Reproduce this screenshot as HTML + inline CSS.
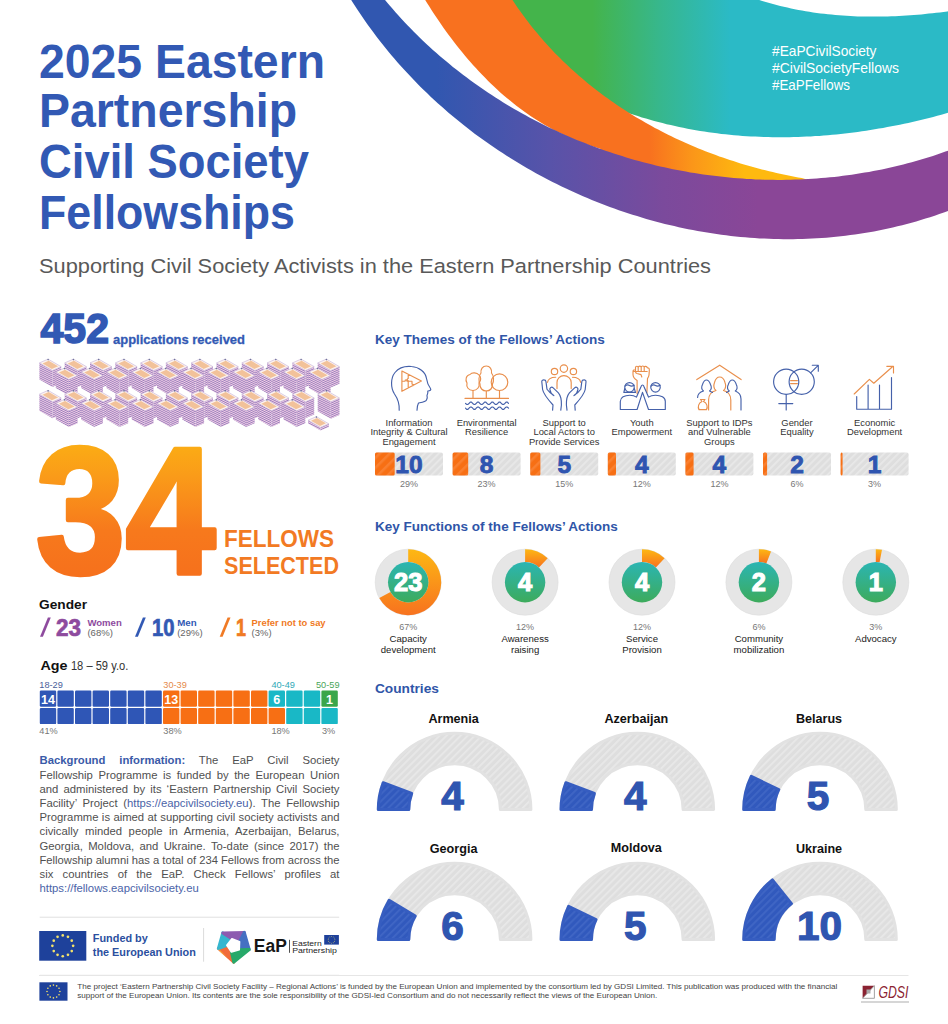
<!DOCTYPE html>
<html><head><meta charset="utf-8"><style>
html,body{margin:0;padding:0;background:#fff;}
body{width:948px;height:1024px;overflow:hidden;position:relative;font-family:"Liberation Sans", sans-serif;}
svg{position:absolute;left:0;top:0;}
text{font-family:"Liberation Sans", sans-serif;}
</style></head><body>
<svg width="948" height="1024" viewBox="0 0 948 1024">
<defs>

<linearGradient id="gBand" x1="0" y1="0" x2="948" y2="0" gradientUnits="userSpaceOnUse">
  <stop offset="0.46" stop-color="#3157b0"/><stop offset="0.58" stop-color="#5853a9"/><stop offset="0.70" stop-color="#7b4a9c"/><stop offset="0.80" stop-color="#8a4697"/><stop offset="1" stop-color="#8a4697"/>
</linearGradient>
<linearGradient id="gOrange" x1="0" y1="0" x2="948" y2="0" gradientUnits="userSpaceOnUse">
  <stop offset="0.685" stop-color="#f8711f"/><stop offset="0.73" stop-color="#fb9619"/><stop offset="0.785" stop-color="#feb90f"/>
</linearGradient>
<linearGradient id="gGreen" x1="0" y1="0" x2="948" y2="0" gradientUnits="userSpaceOnUse">
  <stop offset="0.625" stop-color="#44b44b"/><stop offset="0.695" stop-color="#37b78c"/><stop offset="0.77" stop-color="#2bbac6"/><stop offset="1" stop-color="#2bbac6"/>
</linearGradient>
<linearGradient id="g34" x1="0" y1="0" x2="0" y2="1">
  <stop offset="0" stop-color="#fdbf0f"/><stop offset="0.33" stop-color="#fa9b19"/><stop offset="0.6" stop-color="#f7791c"/><stop offset="1" stop-color="#f56a1c"/>
</linearGradient>
<linearGradient id="gDon" x1="0" y1="0" x2="0" y2="1">
  <stop offset="0" stop-color="#fdb813"/><stop offset="1" stop-color="#f7721f"/>
</linearGradient>
<linearGradient id="gGrn" x1="0" y1="0" x2="0" y2="1">
  <stop offset="0" stop-color="#2bb5b3"/><stop offset="1" stop-color="#3dab5c"/>
</linearGradient>
<pattern id="pGray" width="5" height="5" patternUnits="userSpaceOnUse" patternTransform="rotate(45)">
  <rect width="5" height="5" fill="#dedede"/><rect width="1.8" height="5" fill="#e8e8e8"/>
</pattern>
<pattern id="pBlue" width="5" height="5" patternUnits="userSpaceOnUse" patternTransform="rotate(45)">
  <rect width="5" height="5" fill="#3159bd"/><rect width="1.8" height="5" fill="#4066c5"/>
</pattern>
<pattern id="pOr" width="7" height="7" patternUnits="userSpaceOnUse" patternTransform="rotate(45)">
  <rect width="7" height="7" fill="#f76f14"/><rect width="2.5" height="7" fill="#f98030"/>
</pattern>
<pattern id="pSideL" width="4" height="2" patternUnits="userSpaceOnUse" patternTransform="skewY(26)">
  <rect width="4" height="2" fill="#f1cfe6"/><rect width="4" height="1" fill="#9c80bd"/>
</pattern>
<pattern id="pSideR" width="4" height="2" patternUnits="userSpaceOnUse" patternTransform="skewY(-24)">
  <rect width="4" height="2" fill="#f1cfe6"/><rect width="4" height="1" fill="#9c80bd"/>
</pattern>

</defs>
<path d="M497.0,-15.4 498.9,-12.1 500.9,-8.9 502.9,-5.7 504.9,-2.5 507.0,0.7 509.0,3.8 511.1,6.9 513.3,10.0 515.5,13.0 517.7,16.0 519.9,19.0 522.2,22.0 524.4,24.9 526.8,27.9 529.1,30.7 531.5,33.6 533.9,36.4 536.3,39.2 538.7,42.0 541.2,44.8 543.7,47.5 546.3,50.2 548.8,52.9 551.4,55.5 554.0,58.1 556.6,60.7 559.3,63.3 562.0,65.8 564.7,68.4 567.4,70.8 570.2,73.3 572.9,75.7 575.7,78.1 578.6,80.5 581.4,82.9 584.3,85.2 587.1,87.5 590.0,89.8 593.0,92.0 595.9,94.2 598.9,96.4 601.9,98.6 604.9,100.7 607.9,102.8 611.0,104.9 614.0,107.0 617.1,109.0 L629.6,113.5 633.7,114.8 637.8,116.1 641.9,117.4 646.0,118.6 650.1,119.8 654.2,121.0 658.3,122.1 662.5,123.1 666.6,124.2 670.8,125.1 675.0,126.1 679.1,127.0 683.3,127.8 687.5,128.7 691.7,129.4 695.9,130.2 700.1,130.9 704.3,131.6 708.6,132.2 712.8,132.8 717.0,133.3 721.3,133.9 725.5,134.3 729.7,134.8 734.0,135.2 738.2,135.5 742.5,135.9 746.8,136.2 751.0,136.4 755.3,136.6 759.6,136.8 763.8,137.0 768.1,137.1 772.4,137.2 776.6,137.2 780.9,137.2 785.2,137.2 789.5,137.2 793.7,137.1 798.0,137.0 802.3,136.8 806.6,136.6 810.8,136.4 815.1,136.1 819.4,135.9 823.6,135.5 827.9,135.2 832.2,134.8 836.4,134.4 840.7,134.0 845.0,133.5 849.2,133.0 853.5,132.4 857.7,131.9 862.0,131.3 866.2,130.7 870.4,130.0 874.7,129.3 878.9,128.6 883.1,127.9 887.3,127.1 891.5,126.3 895.7,125.5 899.9,124.7 904.1,123.8 908.3,122.9 912.4,121.9 916.6,121.0 920.8,120.0 924.9,119.0 929.1,118.0 933.2,116.9 937.3,115.8 941.4,114.7 945.5,113.5 949.6,112.4 953.7,111.2 957.8,110.0 961.9,108.8 L962,8 L961.9,9.2 958.3,9.8 954.6,10.3 951.0,10.9 947.3,11.4 943.6,11.9 939.9,12.4 936.2,12.8 932.5,13.2 928.8,13.6 925.1,14.0 921.4,14.4 917.6,14.7 913.9,15.0 910.2,15.3 906.4,15.6 902.7,15.8 899.0,16.0 895.2,16.2 891.5,16.3 887.7,16.4 884.0,16.5 880.2,16.6 876.5,16.6 872.7,16.6 869.0,16.6 865.2,16.6 861.5,16.5 857.7,16.4 854.0,16.2 850.3,16.0 846.5,15.8 842.8,15.6 839.1,15.3 835.3,15.0 831.6,14.6 827.9,14.2 824.2,13.8 820.5,13.4 816.8,12.9 813.1,12.4 809.4,11.8 805.7,11.2 802.0,10.6 798.4,9.9 794.7,9.2 791.1,8.4 787.4,7.6 783.8,6.8 780.2,5.9 776.6,5.0 773.0,4.0 769.4,3.0 765.8,2.0 762.2,0.9 758.7,-0.2 755.2,-1.4 751.6,-2.6 748.1,-3.9 744.6,-5.2 L500,-15 Z" fill="url(#gGreen)"/>
<path d="M416.2,-15.1 418.4,-11.5 420.5,-7.8 422.7,-4.1 424.9,-0.5 427.2,3.2 429.5,6.8 431.8,10.4 434.1,14.0 436.5,17.6 438.9,21.1 441.4,24.7 443.8,28.2 446.3,31.7 448.9,35.2 451.4,38.6 454.0,42.0 456.7,45.4 459.3,48.8 462.0,52.1 464.8,55.4 467.5,58.7 470.4,62.0 473.2,65.2 476.1,68.3 479.0,71.5 481.9,74.6 484.9,77.6 487.9,80.7 491.0,83.7 494.0,86.6 497.2,89.5 500.3,92.4 503.5,95.2 506.8,97.9 510.0,100.6 513.3,103.3 516.7,105.9 520.1,108.5 523.5,111.0 527.0,113.5 530.5,115.9 534.0,118.3 537.6,120.5 541.2,122.8 544.8,125.0 548.5,127.1 552.3,129.2 556.0,131.2 559.9,133.1 563.7,135.0 567.6,136.8 571.6,138.5 575.5,140.2 579.6,141.8 583.6,143.3 587.7,144.8 591.9,146.2 596.1,147.5 600.3,148.7 L605.5,164.7 609.6,166.1 613.8,167.5 617.9,168.8 622.1,170.1 626.3,171.4 630.5,172.7 634.7,173.9 638.9,175.0 643.2,176.2 647.4,177.3 651.6,178.3 655.9,179.4 660.2,180.4 664.4,181.3 668.7,182.3 673.0,183.2 677.3,184.0 681.6,184.8 685.9,185.6 690.2,186.4 694.5,187.1 698.9,187.8 703.2,188.4 707.5,189.0 711.9,189.6 716.2,190.1 720.6,190.6 724.9,191.1 729.3,191.5 733.7,191.9 738.0,192.3 742.4,192.6 746.8,192.9 751.1,193.1 755.5,193.4 759.9,193.5 764.3,193.7 768.7,193.8 773.0,193.8 777.4,193.9 781.8,193.9 786.2,193.8 790.6,193.7 794.9,193.6 799.3,193.5 803.7,193.3 808.1,193.0 812.4,192.8 L815,182 L801.8,178.0 798.2,177.4 794.5,176.7 790.9,176.0 787.3,175.3 783.6,174.5 780.0,173.7 776.4,172.9 772.8,172.1 769.1,171.2 765.5,170.3 761.9,169.4 758.3,168.5 754.8,167.5 751.2,166.5 747.6,165.5 744.0,164.4 740.5,163.4 736.9,162.3 733.4,161.1 729.8,160.0 726.3,158.8 722.8,157.6 719.3,156.4 715.8,155.1 712.3,153.8 708.8,152.5 705.4,151.2 701.9,149.8 698.5,148.4 695.1,147.0 691.6,145.5 688.2,144.1 684.8,142.6 681.5,141.0 678.1,139.5 674.7,137.9 671.4,136.3 668.1,134.7 664.7,133.0 661.4,131.3 658.2,129.6 654.9,127.9 651.6,126.1 648.4,124.3 645.2,122.5 642.0,120.6 638.8,118.8 635.6,116.9 632.5,114.9 629.3,113.0 626.2,111.0 623.1,109.0 620.0,107.0 617.0,104.9 613.9,102.8 610.9,100.7 607.9,98.6 604.9,96.4 601.9,94.2 599.0,92.0 596.0,89.8 593.1,87.5 590.3,85.2 587.4,82.9 584.6,80.5 581.7,78.1 578.9,75.7 576.2,73.3 573.4,70.8 570.7,68.4 568.0,65.8 565.3,63.3 562.6,60.7 560.0,58.1 557.4,55.5 554.8,52.9 552.3,50.2 549.7,47.5 547.2,44.8 544.7,42.0 542.3,39.2 539.9,36.4 537.5,33.6 535.1,30.7 532.8,27.9 530.4,24.9 528.2,22.0 525.9,19.0 523.7,16.0 521.5,13.0 519.3,10.0 517.1,6.9 515.0,3.8 513.0,0.7 510.9,-2.5 508.9,-5.7 506.9,-8.9 504.9,-12.1 503.0,-15.4 Z" fill="url(#gOrange)"/>
<path d="M342.0,-15.7 344.4,-11.5 346.8,-7.4 349.3,-3.2 351.8,0.9 354.4,4.9 357.0,9.0 359.7,13.0 362.4,17.0 365.1,20.9 367.9,24.9 370.7,28.8 373.5,32.6 376.4,36.5 379.3,40.3 382.3,44.0 385.3,47.8 388.3,51.5 391.4,55.2 394.5,58.8 397.6,62.5 400.8,66.1 404.0,69.6 407.3,73.1 410.6,76.6 413.9,80.1 417.2,83.5 420.6,86.9 424.0,90.3 427.5,93.6 430.9,96.9 434.5,100.2 438.0,103.4 441.6,106.6 445.2,109.8 448.8,112.9 452.5,116.0 456.2,119.1 459.9,122.1 463.6,125.1 467.4,128.1 471.2,131.0 475.0,133.9 478.9,136.7 482.8,139.6 486.7,142.3 490.6,145.1 494.6,147.8 498.6,150.5 502.6,153.1 506.6,155.7 510.7,158.3 514.8,160.8 518.9,163.3 523.0,165.8 527.2,168.2 531.3,170.6 535.5,172.9 539.7,175.2 544.0,177.5 548.2,179.7 552.5,181.9 556.8,184.1 561.1,186.2 565.5,188.3 569.8,190.3 574.2,192.3 578.6,194.3 583.0,196.2 587.4,198.1 591.8,199.9 596.3,201.7 600.8,203.5 605.3,205.2 609.8,206.9 614.3,208.6 618.8,210.2 623.4,211.7 627.9,213.2 632.5,214.7 637.1,216.1 641.7,217.5 646.3,218.9 650.9,220.2 655.5,221.5 660.2,222.7 664.8,223.9 669.5,225.0 674.2,226.1 678.8,227.2 683.5,228.2 688.2,229.2 692.9,230.1 697.6,231.0 702.4,231.8 707.1,232.6 711.8,233.3 716.6,234.0 721.3,234.7 726.1,235.3 730.8,235.9 735.6,236.4 740.4,236.9 745.1,237.3 749.9,237.7 754.7,238.1 759.5,238.4 764.2,238.6 769.0,238.8 773.8,239.0 778.6,239.1 783.4,239.2 788.2,239.2 793.0,239.2 797.7,239.1 802.5,239.0 807.3,238.8 812.1,238.6 816.9,238.3 821.7,238.0 826.4,237.7 831.2,237.2 836.0,236.8 840.8,236.3 845.5,235.7 850.3,235.1 855.0,234.5 859.8,233.8 864.5,233.0 869.3,232.2 874.0,231.4 878.7,230.5 883.4,229.5 888.1,228.5 892.8,227.4 897.5,226.3 902.2,225.2 906.9,224.0 911.6,222.7 916.2,221.4 920.8,220.0 925.5,218.6 930.1,217.2 934.7,215.7 939.3,214.1 943.9,212.5 948.5,210.8 953.0,209.1 957.6,207.3 962.1,205.5 L962.0,145.4 957.8,147.0 953.7,148.6 949.6,150.1 945.4,151.6 941.3,153.1 937.1,154.5 932.9,155.9 928.7,157.2 924.5,158.5 920.3,159.8 916.0,161.0 911.8,162.2 907.6,163.3 903.3,164.4 899.0,165.5 894.8,166.5 890.5,167.5 886.2,168.4 881.9,169.4 877.6,170.2 873.3,171.1 869.0,171.9 864.7,172.6 860.3,173.3 856.0,174.0 851.7,174.7 847.3,175.3 843.0,175.8 838.6,176.4 834.3,176.9 829.9,177.3 825.6,177.7 821.2,178.1 816.8,178.5 812.4,178.8 808.1,179.0 803.7,179.3 799.3,179.5 794.9,179.6 790.6,179.7 786.2,179.8 781.8,179.9 777.4,179.9 773.0,179.8 768.7,179.8 764.3,179.7 759.9,179.5 755.5,179.4 751.1,179.1 746.8,178.9 742.4,178.6 738.0,178.3 733.7,177.9 729.3,177.5 724.9,177.1 720.6,176.6 716.2,176.1 711.9,175.6 707.5,175.0 703.2,174.4 698.9,173.8 694.5,173.1 690.2,172.4 685.9,171.6 681.6,170.8 677.3,170.0 673.0,169.2 668.7,168.3 664.4,167.3 660.2,166.4 655.9,165.4 651.6,164.3 647.4,163.3 643.2,162.2 638.9,161.0 634.7,159.9 630.5,158.7 626.3,157.4 622.1,156.1 617.9,154.8 613.8,153.5 609.6,152.1 605.5,150.7 601.3,149.2 597.2,147.8 593.1,146.3 589.0,144.7 585.0,143.1 580.9,141.5 576.8,139.9 572.8,138.2 568.8,136.4 564.8,134.7 560.8,132.9 556.8,131.1 552.8,129.2 548.9,127.4 545.0,125.4 541.1,123.5 537.2,121.5 533.3,119.5 529.4,117.4 525.6,115.3 521.8,113.2 517.9,111.1 514.2,108.9 510.4,106.7 506.6,104.4 502.9,102.2 499.2,99.8 495.5,97.5 491.8,95.1 488.2,92.7 484.6,90.3 481.0,87.8 477.4,85.3 473.8,82.8 470.3,80.2 466.8,77.6 463.3,75.0 459.8,72.3 456.3,69.6 452.9,66.9 449.5,64.1 446.2,61.3 442.8,58.5 439.5,55.7 436.2,52.8 432.9,49.9 429.7,46.9 426.4,43.9 423.2,40.9 420.1,37.9 416.9,34.8 413.8,31.7 410.7,28.6 407.7,25.4 404.6,22.2 401.6,19.0 398.7,15.7 395.7,12.5 392.8,9.1 389.9,5.8 387.1,2.4 384.2,-1.0 381.4,-4.4 378.7,-7.9 376.0,-11.4 373.3,-14.9 Z" fill="url(#gBand)"/>
<text x="772" y="56.4" font-size="14.5" fill="#ffffff" font-weight="normal" text-anchor="start" textLength="104.5" lengthAdjust="spacingAndGlyphs" >#EaPCivilSociety</text>
<text x="772" y="73.4" font-size="14.5" fill="#ffffff" font-weight="normal" text-anchor="start" textLength="127" lengthAdjust="spacingAndGlyphs" >#CivilSocietyFellows</text>
<text x="772" y="90.4" font-size="14.5" fill="#ffffff" font-weight="normal" text-anchor="start" textLength="78" lengthAdjust="spacingAndGlyphs" >#EaPFellows</text>
<text x="39" y="77.5" font-size="47.5" fill="#3259b4" font-weight="bold" text-anchor="start" textLength="286" lengthAdjust="spacingAndGlyphs" >2025 Eastern</text>
<text x="39" y="127" font-size="47.5" fill="#3259b4" font-weight="bold" text-anchor="start" textLength="258" lengthAdjust="spacingAndGlyphs" >Partnership</text>
<text x="39" y="177.5" font-size="47.5" fill="#3259b4" font-weight="bold" text-anchor="start" textLength="270" lengthAdjust="spacingAndGlyphs" >Civil Society</text>
<text x="39" y="228.7" font-size="47.5" fill="#3259b4" font-weight="bold" text-anchor="start" textLength="256" lengthAdjust="spacingAndGlyphs" >Fellowships</text>
<text x="39" y="273" font-size="20.5" fill="#595959" font-weight="normal" text-anchor="start" textLength="672" lengthAdjust="spacingAndGlyphs" >Supporting Civil Society Activists in the Eastern Partnership Countries</text>
<text x="40.5" y="343.2" font-size="42.5" fill="#3259b4" font-weight="bold" text-anchor="start" textLength="68.5" lengthAdjust="spacingAndGlyphs" stroke="#3259b4" stroke-width="1.6">452</text>
<text x="113" y="343.7" font-size="13.5" fill="#3259b4" font-weight="bold" text-anchor="start" textLength="132" lengthAdjust="spacingAndGlyphs" stroke="#3259b4" stroke-width="0.3">applications received</text>
<polygon points="39.4,362.9 52.5,370.5 52.5,387.0 39.4,379.4" fill="url(#pSideL)"/><polygon points="52.5,370.5 61.2,366.7 61.2,383.2 52.5,387.0" fill="url(#pSideR)"/><polygon points="39.4,362.9 48.1,359.1 61.2,366.7 52.5,370.5" fill="#fdf3ee" stroke="#b9a2d2" stroke-width="0.5"/><polygon points="42.5,363.4 48.7,360.7 58.1,366.2 51.9,368.9" fill="#f2c29a"/><circle cx="48.1" cy="359.6" r="0.8" fill="#3b4a7a" opacity="0.7"/>
<polygon points="64.7,362.9 77.8,370.5 77.8,387.0 64.7,379.4" fill="url(#pSideL)"/><polygon points="77.8,370.5 86.5,366.7 86.5,383.2 77.8,387.0" fill="url(#pSideR)"/><polygon points="64.7,362.9 73.4,359.1 86.5,366.7 77.8,370.5" fill="#fdf3ee" stroke="#b9a2d2" stroke-width="0.5"/><polygon points="67.8,363.4 74.0,360.7 83.4,366.2 77.2,368.9" fill="#f2c29a"/><circle cx="73.4" cy="359.6" r="0.8" fill="#3b4a7a" opacity="0.7"/>
<polygon points="90.0,362.9 103.1,370.5 103.1,387.0 90.0,379.4" fill="url(#pSideL)"/><polygon points="103.1,370.5 111.8,366.7 111.8,383.2 103.1,387.0" fill="url(#pSideR)"/><polygon points="90.0,362.9 98.7,359.1 111.8,366.7 103.1,370.5" fill="#fdf3ee" stroke="#b9a2d2" stroke-width="0.5"/><polygon points="93.1,363.4 99.3,360.7 108.7,366.2 102.5,368.9" fill="#f2c29a"/><circle cx="98.7" cy="359.6" r="0.8" fill="#3b4a7a" opacity="0.7"/>
<polygon points="115.3,362.9 128.4,370.5 128.4,387.0 115.3,379.4" fill="url(#pSideL)"/><polygon points="128.4,370.5 137.1,366.7 137.1,383.2 128.4,387.0" fill="url(#pSideR)"/><polygon points="115.3,362.9 124.0,359.1 137.1,366.7 128.4,370.5" fill="#fdf3ee" stroke="#b9a2d2" stroke-width="0.5"/><polygon points="118.4,363.4 124.6,360.7 134.0,366.2 127.8,368.9" fill="#f2c29a"/><circle cx="124.0" cy="359.6" r="0.8" fill="#3b4a7a" opacity="0.7"/>
<polygon points="140.6,362.9 153.7,370.5 153.7,387.0 140.6,379.4" fill="url(#pSideL)"/><polygon points="153.7,370.5 162.4,366.7 162.4,383.2 153.7,387.0" fill="url(#pSideR)"/><polygon points="140.6,362.9 149.3,359.1 162.4,366.7 153.7,370.5" fill="#fdf3ee" stroke="#b9a2d2" stroke-width="0.5"/><polygon points="143.7,363.4 149.9,360.7 159.3,366.2 153.1,368.9" fill="#f2c29a"/><circle cx="149.3" cy="359.6" r="0.8" fill="#3b4a7a" opacity="0.7"/>
<polygon points="165.9,362.9 179.0,370.5 179.0,387.0 165.9,379.4" fill="url(#pSideL)"/><polygon points="179.0,370.5 187.7,366.7 187.7,383.2 179.0,387.0" fill="url(#pSideR)"/><polygon points="165.9,362.9 174.6,359.1 187.7,366.7 179.0,370.5" fill="#fdf3ee" stroke="#b9a2d2" stroke-width="0.5"/><polygon points="169.0,363.4 175.2,360.7 184.6,366.2 178.4,368.9" fill="#f2c29a"/><circle cx="174.6" cy="359.6" r="0.8" fill="#3b4a7a" opacity="0.7"/>
<polygon points="191.2,362.9 204.3,370.5 204.3,387.0 191.2,379.4" fill="url(#pSideL)"/><polygon points="204.3,370.5 213.0,366.7 213.0,383.2 204.3,387.0" fill="url(#pSideR)"/><polygon points="191.2,362.9 199.9,359.1 213.0,366.7 204.3,370.5" fill="#fdf3ee" stroke="#b9a2d2" stroke-width="0.5"/><polygon points="194.3,363.4 200.5,360.7 209.9,366.2 203.7,368.9" fill="#f2c29a"/><circle cx="199.9" cy="359.6" r="0.8" fill="#3b4a7a" opacity="0.7"/>
<polygon points="216.5,362.9 229.6,370.5 229.6,387.0 216.5,379.4" fill="url(#pSideL)"/><polygon points="229.6,370.5 238.3,366.7 238.3,383.2 229.6,387.0" fill="url(#pSideR)"/><polygon points="216.5,362.9 225.2,359.1 238.3,366.7 229.6,370.5" fill="#fdf3ee" stroke="#b9a2d2" stroke-width="0.5"/><polygon points="219.6,363.4 225.8,360.7 235.2,366.2 229.0,368.9" fill="#f2c29a"/><circle cx="225.2" cy="359.6" r="0.8" fill="#3b4a7a" opacity="0.7"/>
<polygon points="241.8,362.9 254.9,370.5 254.9,387.0 241.8,379.4" fill="url(#pSideL)"/><polygon points="254.9,370.5 263.6,366.7 263.6,383.2 254.9,387.0" fill="url(#pSideR)"/><polygon points="241.8,362.9 250.5,359.1 263.6,366.7 254.9,370.5" fill="#fdf3ee" stroke="#b9a2d2" stroke-width="0.5"/><polygon points="244.9,363.4 251.1,360.7 260.5,366.2 254.3,368.9" fill="#f2c29a"/><circle cx="250.5" cy="359.6" r="0.8" fill="#3b4a7a" opacity="0.7"/>
<polygon points="267.1,362.9 280.2,370.5 280.2,387.0 267.1,379.4" fill="url(#pSideL)"/><polygon points="280.2,370.5 288.9,366.7 288.9,383.2 280.2,387.0" fill="url(#pSideR)"/><polygon points="267.1,362.9 275.8,359.1 288.9,366.7 280.2,370.5" fill="#fdf3ee" stroke="#b9a2d2" stroke-width="0.5"/><polygon points="270.2,363.4 276.4,360.7 285.8,366.2 279.6,368.9" fill="#f2c29a"/><circle cx="275.8" cy="359.6" r="0.8" fill="#3b4a7a" opacity="0.7"/>
<polygon points="292.4,362.9 305.5,370.5 305.5,387.0 292.4,379.4" fill="url(#pSideL)"/><polygon points="305.5,370.5 314.2,366.7 314.2,383.2 305.5,387.0" fill="url(#pSideR)"/><polygon points="292.4,362.9 301.1,359.1 314.2,366.7 305.5,370.5" fill="#fdf3ee" stroke="#b9a2d2" stroke-width="0.5"/><polygon points="295.5,363.4 301.7,360.7 311.1,366.2 304.9,368.9" fill="#f2c29a"/><circle cx="301.1" cy="359.6" r="0.8" fill="#3b4a7a" opacity="0.7"/>
<polygon points="317.7,362.9 330.8,370.5 330.8,387.5 317.7,379.9" fill="url(#pSideL)"/><polygon points="330.8,370.5 339.5,366.7 339.5,383.7 330.8,387.5" fill="url(#pSideR)"/><polygon points="317.7,362.9 326.4,359.1 339.5,366.7 330.8,370.5" fill="#fdf3ee" stroke="#b9a2d2" stroke-width="0.5"/><polygon points="320.8,363.4 327.0,360.7 336.4,366.2 330.2,368.9" fill="#f2c29a"/><circle cx="326.4" cy="359.6" r="0.8" fill="#3b4a7a" opacity="0.7"/>
<polygon points="55.8,371.9 68.9,379.5 68.9,395.7 55.8,388.1" fill="url(#pSideL)"/><polygon points="68.9,379.5 77.6,375.7 77.6,391.9 68.9,395.7" fill="url(#pSideR)"/><polygon points="55.8,371.9 64.5,368.1 77.6,375.7 68.9,379.5" fill="#fdf3ee" stroke="#b9a2d2" stroke-width="0.5"/><polygon points="58.9,372.4 65.1,369.7 74.5,375.2 68.3,377.9" fill="#f2c29a"/><circle cx="64.5" cy="368.6" r="0.8" fill="#3b4a7a" opacity="0.7"/>
<polygon points="81.1,371.9 94.2,379.5 94.2,395.7 81.1,388.1" fill="url(#pSideL)"/><polygon points="94.2,379.5 102.9,375.7 102.9,391.9 94.2,395.7" fill="url(#pSideR)"/><polygon points="81.1,371.9 89.8,368.1 102.9,375.7 94.2,379.5" fill="#fdf3ee" stroke="#b9a2d2" stroke-width="0.5"/><polygon points="84.2,372.4 90.4,369.7 99.8,375.2 93.6,377.9" fill="#f2c29a"/><circle cx="89.8" cy="368.6" r="0.8" fill="#3b4a7a" opacity="0.7"/>
<polygon points="106.4,371.9 119.5,379.5 119.5,395.7 106.4,388.1" fill="url(#pSideL)"/><polygon points="119.5,379.5 128.2,375.7 128.2,391.9 119.5,395.7" fill="url(#pSideR)"/><polygon points="106.4,371.9 115.1,368.1 128.2,375.7 119.5,379.5" fill="#fdf3ee" stroke="#b9a2d2" stroke-width="0.5"/><polygon points="109.5,372.4 115.7,369.7 125.1,375.2 118.9,377.9" fill="#f2c29a"/><circle cx="115.1" cy="368.6" r="0.8" fill="#3b4a7a" opacity="0.7"/>
<polygon points="131.7,371.9 144.8,379.5 144.8,395.7 131.7,388.1" fill="url(#pSideL)"/><polygon points="144.8,379.5 153.5,375.7 153.5,391.9 144.8,395.7" fill="url(#pSideR)"/><polygon points="131.7,371.9 140.4,368.1 153.5,375.7 144.8,379.5" fill="#fdf3ee" stroke="#b9a2d2" stroke-width="0.5"/><polygon points="134.8,372.4 141.0,369.7 150.4,375.2 144.2,377.9" fill="#f2c29a"/><circle cx="140.4" cy="368.6" r="0.8" fill="#3b4a7a" opacity="0.7"/>
<polygon points="157.0,371.9 170.1,379.5 170.1,395.7 157.0,388.1" fill="url(#pSideL)"/><polygon points="170.1,379.5 178.8,375.7 178.8,391.9 170.1,395.7" fill="url(#pSideR)"/><polygon points="157.0,371.9 165.7,368.1 178.8,375.7 170.1,379.5" fill="#fdf3ee" stroke="#b9a2d2" stroke-width="0.5"/><polygon points="160.1,372.4 166.3,369.7 175.7,375.2 169.5,377.9" fill="#f2c29a"/><circle cx="165.7" cy="368.6" r="0.8" fill="#3b4a7a" opacity="0.7"/>
<polygon points="182.3,371.9 195.4,379.5 195.4,395.7 182.3,388.1" fill="url(#pSideL)"/><polygon points="195.4,379.5 204.1,375.7 204.1,391.9 195.4,395.7" fill="url(#pSideR)"/><polygon points="182.3,371.9 191.0,368.1 204.1,375.7 195.4,379.5" fill="#fdf3ee" stroke="#b9a2d2" stroke-width="0.5"/><polygon points="185.4,372.4 191.6,369.7 201.0,375.2 194.8,377.9" fill="#f2c29a"/><circle cx="191.0" cy="368.6" r="0.8" fill="#3b4a7a" opacity="0.7"/>
<polygon points="207.6,371.9 220.7,379.5 220.7,395.7 207.6,388.1" fill="url(#pSideL)"/><polygon points="220.7,379.5 229.4,375.7 229.4,391.9 220.7,395.7" fill="url(#pSideR)"/><polygon points="207.6,371.9 216.3,368.1 229.4,375.7 220.7,379.5" fill="#fdf3ee" stroke="#b9a2d2" stroke-width="0.5"/><polygon points="210.7,372.4 216.9,369.7 226.3,375.2 220.1,377.9" fill="#f2c29a"/><circle cx="216.3" cy="368.6" r="0.8" fill="#3b4a7a" opacity="0.7"/>
<polygon points="232.9,371.9 246.0,379.5 246.0,395.7 232.9,388.1" fill="url(#pSideL)"/><polygon points="246.0,379.5 254.7,375.7 254.7,391.9 246.0,395.7" fill="url(#pSideR)"/><polygon points="232.9,371.9 241.6,368.1 254.7,375.7 246.0,379.5" fill="#fdf3ee" stroke="#b9a2d2" stroke-width="0.5"/><polygon points="236.0,372.4 242.2,369.7 251.6,375.2 245.4,377.9" fill="#f2c29a"/><circle cx="241.6" cy="368.6" r="0.8" fill="#3b4a7a" opacity="0.7"/>
<polygon points="258.2,371.9 271.3,379.5 271.3,395.7 258.2,388.1" fill="url(#pSideL)"/><polygon points="271.3,379.5 280.0,375.7 280.0,391.9 271.3,395.7" fill="url(#pSideR)"/><polygon points="258.2,371.9 266.9,368.1 280.0,375.7 271.3,379.5" fill="#fdf3ee" stroke="#b9a2d2" stroke-width="0.5"/><polygon points="261.3,372.4 267.5,369.7 276.9,375.2 270.7,377.9" fill="#f2c29a"/><circle cx="266.9" cy="368.6" r="0.8" fill="#3b4a7a" opacity="0.7"/>
<polygon points="283.5,371.9 296.6,379.5 296.6,395.7 283.5,388.1" fill="url(#pSideL)"/><polygon points="296.6,379.5 305.3,375.7 305.3,391.9 296.6,395.7" fill="url(#pSideR)"/><polygon points="283.5,371.9 292.2,368.1 305.3,375.7 296.6,379.5" fill="#fdf3ee" stroke="#b9a2d2" stroke-width="0.5"/><polygon points="286.6,372.4 292.8,369.7 302.2,375.2 296.0,377.9" fill="#f2c29a"/><circle cx="292.2" cy="368.6" r="0.8" fill="#3b4a7a" opacity="0.7"/>
<polygon points="308.8,371.9 321.9,379.5 321.9,395.7 308.8,388.1" fill="url(#pSideL)"/><polygon points="321.9,379.5 330.6,375.7 330.6,391.9 321.9,395.7" fill="url(#pSideR)"/><polygon points="308.8,371.9 317.5,368.1 330.6,375.7 321.9,379.5" fill="#fdf3ee" stroke="#b9a2d2" stroke-width="0.5"/><polygon points="311.9,372.4 318.1,369.7 327.5,375.2 321.3,377.9" fill="#f2c29a"/><circle cx="317.5" cy="368.6" r="0.8" fill="#3b4a7a" opacity="0.7"/>
<polygon points="39.4,394.2 52.5,401.8 52.5,418.3 39.4,410.7" fill="url(#pSideL)"/><polygon points="52.5,401.8 61.2,398.0 61.2,414.5 52.5,418.3" fill="url(#pSideR)"/><polygon points="39.4,394.2 48.1,390.4 61.2,398.0 52.5,401.8" fill="#fdf3ee" stroke="#b9a2d2" stroke-width="0.5"/><polygon points="42.5,394.7 48.7,392.0 58.1,397.5 51.9,400.2" fill="#f2c29a"/><circle cx="48.1" cy="390.9" r="0.8" fill="#3b4a7a" opacity="0.7"/>
<polygon points="64.7,394.2 77.8,401.8 77.8,418.3 64.7,410.7" fill="url(#pSideL)"/><polygon points="77.8,401.8 86.5,398.0 86.5,414.5 77.8,418.3" fill="url(#pSideR)"/><polygon points="64.7,394.2 73.4,390.4 86.5,398.0 77.8,401.8" fill="#fdf3ee" stroke="#b9a2d2" stroke-width="0.5"/><polygon points="67.8,394.7 74.0,392.0 83.4,397.5 77.2,400.2" fill="#f2c29a"/><circle cx="73.4" cy="390.9" r="0.8" fill="#3b4a7a" opacity="0.7"/>
<polygon points="90.0,394.2 103.1,401.8 103.1,418.3 90.0,410.7" fill="url(#pSideL)"/><polygon points="103.1,401.8 111.8,398.0 111.8,414.5 103.1,418.3" fill="url(#pSideR)"/><polygon points="90.0,394.2 98.7,390.4 111.8,398.0 103.1,401.8" fill="#fdf3ee" stroke="#b9a2d2" stroke-width="0.5"/><polygon points="93.1,394.7 99.3,392.0 108.7,397.5 102.5,400.2" fill="#f2c29a"/><circle cx="98.7" cy="390.9" r="0.8" fill="#3b4a7a" opacity="0.7"/>
<polygon points="115.3,394.2 128.4,401.8 128.4,418.3 115.3,410.7" fill="url(#pSideL)"/><polygon points="128.4,401.8 137.1,398.0 137.1,414.5 128.4,418.3" fill="url(#pSideR)"/><polygon points="115.3,394.2 124.0,390.4 137.1,398.0 128.4,401.8" fill="#fdf3ee" stroke="#b9a2d2" stroke-width="0.5"/><polygon points="118.4,394.7 124.6,392.0 134.0,397.5 127.8,400.2" fill="#f2c29a"/><circle cx="124.0" cy="390.9" r="0.8" fill="#3b4a7a" opacity="0.7"/>
<polygon points="140.6,394.2 153.7,401.8 153.7,418.3 140.6,410.7" fill="url(#pSideL)"/><polygon points="153.7,401.8 162.4,398.0 162.4,414.5 153.7,418.3" fill="url(#pSideR)"/><polygon points="140.6,394.2 149.3,390.4 162.4,398.0 153.7,401.8" fill="#fdf3ee" stroke="#b9a2d2" stroke-width="0.5"/><polygon points="143.7,394.7 149.9,392.0 159.3,397.5 153.1,400.2" fill="#f2c29a"/><circle cx="149.3" cy="390.9" r="0.8" fill="#3b4a7a" opacity="0.7"/>
<polygon points="165.9,394.2 179.0,401.8 179.0,418.3 165.9,410.7" fill="url(#pSideL)"/><polygon points="179.0,401.8 187.7,398.0 187.7,414.5 179.0,418.3" fill="url(#pSideR)"/><polygon points="165.9,394.2 174.6,390.4 187.7,398.0 179.0,401.8" fill="#fdf3ee" stroke="#b9a2d2" stroke-width="0.5"/><polygon points="169.0,394.7 175.2,392.0 184.6,397.5 178.4,400.2" fill="#f2c29a"/><circle cx="174.6" cy="390.9" r="0.8" fill="#3b4a7a" opacity="0.7"/>
<polygon points="191.2,394.2 204.3,401.8 204.3,418.3 191.2,410.7" fill="url(#pSideL)"/><polygon points="204.3,401.8 213.0,398.0 213.0,414.5 204.3,418.3" fill="url(#pSideR)"/><polygon points="191.2,394.2 199.9,390.4 213.0,398.0 204.3,401.8" fill="#fdf3ee" stroke="#b9a2d2" stroke-width="0.5"/><polygon points="194.3,394.7 200.5,392.0 209.9,397.5 203.7,400.2" fill="#f2c29a"/><circle cx="199.9" cy="390.9" r="0.8" fill="#3b4a7a" opacity="0.7"/>
<polygon points="216.5,394.2 229.6,401.8 229.6,418.3 216.5,410.7" fill="url(#pSideL)"/><polygon points="229.6,401.8 238.3,398.0 238.3,414.5 229.6,418.3" fill="url(#pSideR)"/><polygon points="216.5,394.2 225.2,390.4 238.3,398.0 229.6,401.8" fill="#fdf3ee" stroke="#b9a2d2" stroke-width="0.5"/><polygon points="219.6,394.7 225.8,392.0 235.2,397.5 229.0,400.2" fill="#f2c29a"/><circle cx="225.2" cy="390.9" r="0.8" fill="#3b4a7a" opacity="0.7"/>
<polygon points="241.8,394.2 254.9,401.8 254.9,418.3 241.8,410.7" fill="url(#pSideL)"/><polygon points="254.9,401.8 263.6,398.0 263.6,414.5 254.9,418.3" fill="url(#pSideR)"/><polygon points="241.8,394.2 250.5,390.4 263.6,398.0 254.9,401.8" fill="#fdf3ee" stroke="#b9a2d2" stroke-width="0.5"/><polygon points="244.9,394.7 251.1,392.0 260.5,397.5 254.3,400.2" fill="#f2c29a"/><circle cx="250.5" cy="390.9" r="0.8" fill="#3b4a7a" opacity="0.7"/>
<polygon points="267.1,394.2 280.2,401.8 280.2,418.3 267.1,410.7" fill="url(#pSideL)"/><polygon points="280.2,401.8 288.9,398.0 288.9,414.5 280.2,418.3" fill="url(#pSideR)"/><polygon points="267.1,394.2 275.8,390.4 288.9,398.0 280.2,401.8" fill="#fdf3ee" stroke="#b9a2d2" stroke-width="0.5"/><polygon points="270.2,394.7 276.4,392.0 285.8,397.5 279.6,400.2" fill="#f2c29a"/><circle cx="275.8" cy="390.9" r="0.8" fill="#3b4a7a" opacity="0.7"/>
<polygon points="292.4,394.2 305.5,401.8 305.5,418.3 292.4,410.7" fill="url(#pSideL)"/><polygon points="305.5,401.8 314.2,398.0 314.2,414.5 305.5,418.3" fill="url(#pSideR)"/><polygon points="292.4,394.2 301.1,390.4 314.2,398.0 305.5,401.8" fill="#fdf3ee" stroke="#b9a2d2" stroke-width="0.5"/><polygon points="295.5,394.7 301.7,392.0 311.1,397.5 304.9,400.2" fill="#f2c29a"/><circle cx="301.1" cy="390.9" r="0.8" fill="#3b4a7a" opacity="0.7"/>
<polygon points="317.7,394.2 330.8,401.8 330.8,418.8 317.7,411.2" fill="url(#pSideL)"/><polygon points="330.8,401.8 339.5,398.0 339.5,415.0 330.8,418.8" fill="url(#pSideR)"/><polygon points="317.7,394.2 326.4,390.4 339.5,398.0 330.8,401.8" fill="#fdf3ee" stroke="#b9a2d2" stroke-width="0.5"/><polygon points="320.8,394.7 327.0,392.0 336.4,397.5 330.2,400.2" fill="#f2c29a"/><circle cx="326.4" cy="390.9" r="0.8" fill="#3b4a7a" opacity="0.7"/>
<polygon points="55.8,403.2 68.9,410.8 68.9,427.0 55.8,419.4" fill="url(#pSideL)"/><polygon points="68.9,410.8 77.6,407.0 77.6,423.2 68.9,427.0" fill="url(#pSideR)"/><polygon points="55.8,403.2 64.5,399.4 77.6,407.0 68.9,410.8" fill="#fdf3ee" stroke="#b9a2d2" stroke-width="0.5"/><polygon points="58.9,403.7 65.1,401.0 74.5,406.5 68.3,409.2" fill="#f2c29a"/><circle cx="64.5" cy="399.9" r="0.8" fill="#3b4a7a" opacity="0.7"/>
<polygon points="81.1,403.2 94.2,410.8 94.2,427.0 81.1,419.4" fill="url(#pSideL)"/><polygon points="94.2,410.8 102.9,407.0 102.9,423.2 94.2,427.0" fill="url(#pSideR)"/><polygon points="81.1,403.2 89.8,399.4 102.9,407.0 94.2,410.8" fill="#fdf3ee" stroke="#b9a2d2" stroke-width="0.5"/><polygon points="84.2,403.7 90.4,401.0 99.8,406.5 93.6,409.2" fill="#f2c29a"/><circle cx="89.8" cy="399.9" r="0.8" fill="#3b4a7a" opacity="0.7"/>
<polygon points="106.4,403.2 119.5,410.8 119.5,427.0 106.4,419.4" fill="url(#pSideL)"/><polygon points="119.5,410.8 128.2,407.0 128.2,423.2 119.5,427.0" fill="url(#pSideR)"/><polygon points="106.4,403.2 115.1,399.4 128.2,407.0 119.5,410.8" fill="#fdf3ee" stroke="#b9a2d2" stroke-width="0.5"/><polygon points="109.5,403.7 115.7,401.0 125.1,406.5 118.9,409.2" fill="#f2c29a"/><circle cx="115.1" cy="399.9" r="0.8" fill="#3b4a7a" opacity="0.7"/>
<polygon points="131.7,403.2 144.8,410.8 144.8,427.0 131.7,419.4" fill="url(#pSideL)"/><polygon points="144.8,410.8 153.5,407.0 153.5,423.2 144.8,427.0" fill="url(#pSideR)"/><polygon points="131.7,403.2 140.4,399.4 153.5,407.0 144.8,410.8" fill="#fdf3ee" stroke="#b9a2d2" stroke-width="0.5"/><polygon points="134.8,403.7 141.0,401.0 150.4,406.5 144.2,409.2" fill="#f2c29a"/><circle cx="140.4" cy="399.9" r="0.8" fill="#3b4a7a" opacity="0.7"/>
<polygon points="157.0,403.2 170.1,410.8 170.1,427.0 157.0,419.4" fill="url(#pSideL)"/><polygon points="170.1,410.8 178.8,407.0 178.8,423.2 170.1,427.0" fill="url(#pSideR)"/><polygon points="157.0,403.2 165.7,399.4 178.8,407.0 170.1,410.8" fill="#fdf3ee" stroke="#b9a2d2" stroke-width="0.5"/><polygon points="160.1,403.7 166.3,401.0 175.7,406.5 169.5,409.2" fill="#f2c29a"/><circle cx="165.7" cy="399.9" r="0.8" fill="#3b4a7a" opacity="0.7"/>
<polygon points="182.3,403.2 195.4,410.8 195.4,427.0 182.3,419.4" fill="url(#pSideL)"/><polygon points="195.4,410.8 204.1,407.0 204.1,423.2 195.4,427.0" fill="url(#pSideR)"/><polygon points="182.3,403.2 191.0,399.4 204.1,407.0 195.4,410.8" fill="#fdf3ee" stroke="#b9a2d2" stroke-width="0.5"/><polygon points="185.4,403.7 191.6,401.0 201.0,406.5 194.8,409.2" fill="#f2c29a"/><circle cx="191.0" cy="399.9" r="0.8" fill="#3b4a7a" opacity="0.7"/>
<polygon points="207.6,403.2 220.7,410.8 220.7,427.0 207.6,419.4" fill="url(#pSideL)"/><polygon points="220.7,410.8 229.4,407.0 229.4,423.2 220.7,427.0" fill="url(#pSideR)"/><polygon points="207.6,403.2 216.3,399.4 229.4,407.0 220.7,410.8" fill="#fdf3ee" stroke="#b9a2d2" stroke-width="0.5"/><polygon points="210.7,403.7 216.9,401.0 226.3,406.5 220.1,409.2" fill="#f2c29a"/><circle cx="216.3" cy="399.9" r="0.8" fill="#3b4a7a" opacity="0.7"/>
<polygon points="232.9,403.2 246.0,410.8 246.0,427.0 232.9,419.4" fill="url(#pSideL)"/><polygon points="246.0,410.8 254.7,407.0 254.7,423.2 246.0,427.0" fill="url(#pSideR)"/><polygon points="232.9,403.2 241.6,399.4 254.7,407.0 246.0,410.8" fill="#fdf3ee" stroke="#b9a2d2" stroke-width="0.5"/><polygon points="236.0,403.7 242.2,401.0 251.6,406.5 245.4,409.2" fill="#f2c29a"/><circle cx="241.6" cy="399.9" r="0.8" fill="#3b4a7a" opacity="0.7"/>
<polygon points="258.2,403.2 271.3,410.8 271.3,427.0 258.2,419.4" fill="url(#pSideL)"/><polygon points="271.3,410.8 280.0,407.0 280.0,423.2 271.3,427.0" fill="url(#pSideR)"/><polygon points="258.2,403.2 266.9,399.4 280.0,407.0 271.3,410.8" fill="#fdf3ee" stroke="#b9a2d2" stroke-width="0.5"/><polygon points="261.3,403.7 267.5,401.0 276.9,406.5 270.7,409.2" fill="#f2c29a"/><circle cx="266.9" cy="399.9" r="0.8" fill="#3b4a7a" opacity="0.7"/>
<polygon points="283.5,403.2 296.6,410.8 296.6,427.0 283.5,419.4" fill="url(#pSideL)"/><polygon points="296.6,410.8 305.3,407.0 305.3,423.2 296.6,427.0" fill="url(#pSideR)"/><polygon points="283.5,403.2 292.2,399.4 305.3,407.0 296.6,410.8" fill="#fdf3ee" stroke="#b9a2d2" stroke-width="0.5"/><polygon points="286.6,403.7 292.8,401.0 302.2,406.5 296.0,409.2" fill="#f2c29a"/><circle cx="292.2" cy="399.9" r="0.8" fill="#3b4a7a" opacity="0.7"/>
<polygon points="308.1,420.2 320.5,427.4 320.5,430.6 308.1,423.4" fill="url(#pSideL)"/><polygon points="320.5,427.4 328.8,423.8 328.8,427.0 320.5,430.6" fill="url(#pSideR)"/><polygon points="308.1,420.2 316.4,416.6 328.8,423.8 320.5,427.4" fill="#fdf3ee" stroke="#b9a2d2" stroke-width="0.5"/><polygon points="311.0,420.7 317.0,418.1 325.9,423.3 320.0,425.9" fill="#f2c29a"/><circle cx="316.4" cy="417.1" r="0.8" fill="#3b4a7a" opacity="0.7"/>
<text x="35.5" y="573" font-size="180" font-weight="bold" fill="url(#g34)" stroke="url(#g34)" stroke-width="4.5" stroke-linejoin="round" textLength="180" lengthAdjust="spacingAndGlyphs">34</text>
<text x="224" y="546.5" font-size="23.5" fill="#f27a23" font-weight="bold" text-anchor="start" textLength="110" lengthAdjust="spacingAndGlyphs" >FELLOWS</text>
<text x="224" y="573.5" font-size="23.5" fill="#f27a23" font-weight="bold" text-anchor="start" textLength="115" lengthAdjust="spacingAndGlyphs" >SELECTED</text>
<text x="39" y="609.4" font-size="12.8" fill="#111" font-weight="bold" text-anchor="start" textLength="48" lengthAdjust="spacingAndGlyphs" >Gender</text>
<polygon points="47.9,617.5 50.8,617.5 42.9,636.8 40.0,636.8" fill="#8e4b9e"/>
<text x="56" y="635.7" font-size="23" fill="#8e4b9e" font-weight="bold" text-anchor="start" textLength="25" lengthAdjust="spacingAndGlyphs" stroke="#8e4b9e" stroke-width="0.7">23</text>
<text x="87.4" y="626" font-size="8.6" fill="#8e4b9e" font-weight="bold" text-anchor="start" textLength="34.4" lengthAdjust="spacingAndGlyphs" >Women</text>
<text x="87.4" y="635.7" font-size="9.2" fill="#666" font-weight="normal" text-anchor="start" textLength="25.5" lengthAdjust="spacingAndGlyphs" >(68%)</text>
<polygon points="142.9,617.5 145.8,617.5 137.9,636.8 135.0,636.8" fill="#3259b4"/>
<text x="152" y="635.7" font-size="23" fill="#3259b4" font-weight="bold" text-anchor="start" textLength="22.5" lengthAdjust="spacingAndGlyphs" stroke="#3259b4" stroke-width="0.7">10</text>
<text x="177.2" y="626" font-size="8.6" fill="#3259b4" font-weight="bold" text-anchor="start" textLength="19.4" lengthAdjust="spacingAndGlyphs" >Men</text>
<text x="177.2" y="635.7" font-size="9.2" fill="#666" font-weight="normal" text-anchor="start" textLength="25.5" lengthAdjust="spacingAndGlyphs" >(29%)</text>
<polygon points="227.6,617.5 230.5,617.5 222.6,636.8 219.7,636.8" fill="#f07a24"/>
<text x="236" y="635.7" font-size="23" fill="#f07a24" font-weight="bold" text-anchor="start" textLength="10" lengthAdjust="spacingAndGlyphs" stroke="#f07a24" stroke-width="0.7">1</text>
<text x="251.6" y="626" font-size="8.6" fill="#f07a24" font-weight="bold" text-anchor="start" textLength="74" lengthAdjust="spacingAndGlyphs" >Prefer not to say</text>
<text x="251.6" y="635.7" font-size="9.2" fill="#666" font-weight="normal" text-anchor="start" textLength="20" lengthAdjust="spacingAndGlyphs" >(3%)</text>
<text x="40.5" y="669.8" font-size="13" fill="#111" font-weight="bold" text-anchor="start" textLength="27" lengthAdjust="spacingAndGlyphs" >Age</text>
<text x="70.9" y="669.8" font-size="12.5" fill="#333" font-weight="normal" text-anchor="start" textLength="57.4" lengthAdjust="spacingAndGlyphs" >18 – 59 y.o.</text>
<rect x="39.8" y="690.5" width="16.4" height="16.2" rx="1.2" fill="#2f56b6"/>
<rect x="57.4" y="690.5" width="16.4" height="16.2" rx="1.2" fill="#2f56b6"/>
<rect x="75.0" y="690.5" width="16.4" height="16.2" rx="1.2" fill="#2f56b6"/>
<rect x="92.6" y="690.5" width="16.4" height="16.2" rx="1.2" fill="#2f56b6"/>
<rect x="110.2" y="690.5" width="16.4" height="16.2" rx="1.2" fill="#2f56b6"/>
<rect x="127.8" y="690.5" width="16.4" height="16.2" rx="1.2" fill="#2f56b6"/>
<rect x="145.4" y="690.5" width="16.4" height="16.2" rx="1.2" fill="#2f56b6"/>
<rect x="163.0" y="690.5" width="16.4" height="16.2" rx="1.2" fill="#f76f14"/>
<rect x="180.6" y="690.5" width="16.4" height="16.2" rx="1.2" fill="#f76f14"/>
<rect x="198.2" y="690.5" width="16.4" height="16.2" rx="1.2" fill="#f76f14"/>
<rect x="215.8" y="690.5" width="16.4" height="16.2" rx="1.2" fill="#f76f14"/>
<rect x="233.4" y="690.5" width="16.4" height="16.2" rx="1.2" fill="#f76f14"/>
<rect x="251.0" y="690.5" width="16.4" height="16.2" rx="1.2" fill="#f76f14"/>
<rect x="268.6" y="690.5" width="16.4" height="16.2" rx="1.2" fill="#19b8c6"/>
<rect x="286.2" y="690.5" width="16.4" height="16.2" rx="1.2" fill="#19b8c6"/>
<rect x="303.8" y="690.5" width="16.4" height="16.2" rx="1.2" fill="#19b8c6"/>
<rect x="321.4" y="690.5" width="16.4" height="16.2" rx="1.2" fill="#3aa64a"/>
<rect x="39.8" y="707.9" width="16.4" height="16.2" rx="1.2" fill="#2f56b6"/>
<rect x="57.4" y="707.9" width="16.4" height="16.2" rx="1.2" fill="#2f56b6"/>
<rect x="75.0" y="707.9" width="16.4" height="16.2" rx="1.2" fill="#2f56b6"/>
<rect x="92.6" y="707.9" width="16.4" height="16.2" rx="1.2" fill="#2f56b6"/>
<rect x="110.2" y="707.9" width="16.4" height="16.2" rx="1.2" fill="#2f56b6"/>
<rect x="127.8" y="707.9" width="16.4" height="16.2" rx="1.2" fill="#2f56b6"/>
<rect x="145.4" y="707.9" width="16.4" height="16.2" rx="1.2" fill="#2f56b6"/>
<rect x="163.0" y="707.9" width="16.4" height="16.2" rx="1.2" fill="#f76f14"/>
<rect x="180.6" y="707.9" width="16.4" height="16.2" rx="1.2" fill="#f76f14"/>
<rect x="198.2" y="707.9" width="16.4" height="16.2" rx="1.2" fill="#f76f14"/>
<rect x="215.8" y="707.9" width="16.4" height="16.2" rx="1.2" fill="#f76f14"/>
<rect x="233.4" y="707.9" width="16.4" height="16.2" rx="1.2" fill="#f76f14"/>
<rect x="251.0" y="707.9" width="16.4" height="16.2" rx="1.2" fill="#f76f14"/>
<rect x="268.6" y="707.9" width="16.4" height="16.2" rx="1.2" fill="#f76f14"/>
<rect x="286.2" y="707.9" width="16.4" height="16.2" rx="1.2" fill="#19b8c6"/>
<rect x="303.8" y="707.9" width="16.4" height="16.2" rx="1.2" fill="#19b8c6"/>
<rect x="321.4" y="707.9" width="16.4" height="16.2" rx="1.2" fill="#19b8c6"/>
<text x="39.3" y="687.7" font-size="9.2" fill="#4a5d9a" font-weight="normal" text-anchor="start" >18-29</text>
<text x="163.3" y="687.7" font-size="9.2" fill="#e58a4a" font-weight="normal" text-anchor="start" >30-39</text>
<text x="271.4" y="687.7" font-size="9.2" fill="#2fa9b8" font-weight="normal" text-anchor="start" >40-49</text>
<text x="339.5" y="687.7" font-size="9.2" fill="#4aa55a" font-weight="normal" text-anchor="end" >50-59</text>
<text x="48.0" y="703.8" font-size="12.5" fill="#fff" font-weight="bold" text-anchor="middle" >14</text>
<text x="171.2" y="703.8" font-size="12.5" fill="#fff" font-weight="bold" text-anchor="middle" >13</text>
<text x="276.8" y="703.8" font-size="12.5" fill="#fff" font-weight="bold" text-anchor="middle" >6</text>
<text x="329.6" y="703.8" font-size="12.5" fill="#fff" font-weight="bold" text-anchor="middle" >1</text>
<text x="39.3" y="733.5" font-size="9.2" fill="#777" font-weight="normal" text-anchor="start" >41%</text>
<text x="163.3" y="733.5" font-size="9.2" fill="#777" font-weight="normal" text-anchor="start" >38%</text>
<text x="271.4" y="733.5" font-size="9.2" fill="#777" font-weight="normal" text-anchor="start" >18%</text>
<text x="322" y="733.5" font-size="9.2" fill="#777" font-weight="normal" text-anchor="start" >3%</text>
<text x="39.5" y="764.4" font-size="11.3" fill="#505050" font-weight="normal" text-anchor="start" word-spacing="10.740"><tspan font-weight="bold" fill="#3a5aa8">Background information:</tspan> The EaP Civil Society</text>
<text x="39.5" y="778.6" font-size="11.3" fill="#505050" font-weight="normal" text-anchor="start" word-spacing="2.397">Fellowship Programme is funded by the European Union</text>
<text x="39.5" y="792.8" font-size="11.3" fill="#505050" font-weight="normal" text-anchor="start" word-spacing="1.953">and administered by its ‘Eastern Partnership Civil Society</text>
<text x="39.5" y="807.0" font-size="11.3" fill="#505050" font-weight="normal" text-anchor="start" word-spacing="2.535">Facility’ Project (<tspan fill="#4a63a8">https://eapcivilsociety.eu</tspan>). The Fellowship</text>
<text x="39.5" y="821.2" font-size="11.3" fill="#505050" font-weight="normal" text-anchor="start" word-spacing="0.221">Programme is aimed at supporting civil society activists and</text>
<text x="39.5" y="835.4" font-size="11.3" fill="#505050" font-weight="normal" text-anchor="start" word-spacing="3.427">civically minded people in Armenia, Azerbaijan, Belarus,</text>
<text x="39.5" y="849.6" font-size="11.3" fill="#505050" font-weight="normal" text-anchor="start" word-spacing="2.247">Georgia, Moldova, and Ukraine. To-date (since 2017) the</text>
<text x="39.5" y="863.8" font-size="11.3" fill="#505050" font-weight="normal" text-anchor="start" textLength="300" lengthAdjust="spacingAndGlyphs" >Fellowship alumni has a total of 234 Fellows from across the</text>
<text x="39.5" y="878.0" font-size="11.3" fill="#505050" font-weight="normal" text-anchor="start" word-spacing="6.104">six countries of the EaP. Check Fellows’ profiles at</text>
<text x="39.5" y="892.2" font-size="11.3" fill="#505050" font-weight="normal" text-anchor="start" ><tspan fill="#4a63a8">https://fellows.eapcivilsociety.eu</tspan></text>
<text x="374.9" y="343.9" font-size="13.6" fill="#2f55a8" font-weight="bold" text-anchor="start" textLength="230" lengthAdjust="spacingAndGlyphs" >Key Themes of the Fellows’ Actions</text>
<text x="374.9" y="531.2" font-size="13.6" fill="#2f55a8" font-weight="bold" text-anchor="start" textLength="243" lengthAdjust="spacingAndGlyphs" >Key Functions of the Fellows’ Actions</text>
<text x="374.9" y="692.8" font-size="13.6" fill="#2f55a8" font-weight="bold" text-anchor="start" textLength="64" lengthAdjust="spacingAndGlyphs" >Countries</text>
<path d="M399.2,410.2 C399.5,404 398,399 394.5,394 C390.5,388 390.5,378 395,372.5 C399.5,367 406,366 411.5,366.5 C419,367 425.5,372 426.5,378.5 C427,382 427.5,384.5 430.5,388.5 C431.5,390 430,390.8 427.8,391 C428.2,393 427.5,394.5 427,395.5 C427.5,397 427,399 426.5,400 C425.5,402 421,402.5 418.5,403 C417.5,405 417,408 417,410.2" stroke="#4561aa" fill="none" stroke-width="1.15" stroke-linecap="round" stroke-linejoin="round"/>
<path d="M401.9,371 L401.9,391.3 L421.4,381.1 Z M401.9,381.2 L405,381.2 C405,379.5 407,379.5 407,381.2 L412,381.2 M408.2,374.3 L408.2,378.5 C406.8,378.5 406.8,380.5 408.2,380.5 L408.2,388 M412,381.2 L412,384 C413.5,384 413.5,386 412,386" stroke="#e98f4c" fill="none" stroke-width="1.15" stroke-linecap="round" stroke-linejoin="round"/>
<path d="M467,383 C465,380 466,375 470,374.5 C472,372 477,372.5 479,375 C481.5,377 481,381 479,383 C480,387 477,390.5 473,390.5 C468.5,390.5 466,387 467,383 Z" stroke="#e98f4c" fill="none" stroke-width="1.15" stroke-linecap="round" stroke-linejoin="round"/>
<path d="M486.3,366 C490,366 492,369.5 491.5,373 C494,376 494,381 492.5,384 C493,388 490,391 486.3,391 C482.5,391 479.5,388 480,384 C478.5,381 478.5,376 481,373 C480.5,369.5 482.5,366 486.3,366 Z" stroke="#e98f4c" fill="none" stroke-width="1.15" stroke-linecap="round" stroke-linejoin="round"/>
<circle cx="499.5" cy="382.2" r="8.3" stroke="#e98f4c" fill="none" stroke-width="1.15" stroke-linecap="round" stroke-linejoin="round"/>
<path d="M473,390.5 L473,398.4 M486.3,391 L486.3,398.4 M499.5,390.5 L499.5,398.4 M465,398.4 L508.5,398.4" stroke="#e98f4c" fill="none" stroke-width="1.15" stroke-linecap="round" stroke-linejoin="round"/>
<path d="M465.50,403.30 L466.22,404.06 L466.93,404.54 L467.65,404.54 L468.37,404.06 L469.08,403.30 L469.80,402.54 L470.52,402.06 L471.23,402.06 L471.95,402.54 L472.67,403.30 L473.38,404.06 L474.10,404.54 L474.82,404.54 L475.53,404.06 L476.25,403.30 L476.97,402.54 L477.68,402.06 L478.40,402.06 L479.12,402.54 L479.83,403.30 L480.55,404.06 L481.27,404.54 L481.98,404.54 L482.70,404.06 L483.42,403.30 L484.13,402.54 L484.85,402.06 L485.57,402.06 L486.28,402.54 L487.00,403.30 L487.72,404.06 L488.43,404.54 L489.15,404.54 L489.87,404.06 L490.58,403.30 L491.30,402.54 L492.02,402.06 L492.73,402.06 L493.45,402.54 L494.17,403.30 L494.88,404.06 L495.60,404.54 L496.32,404.54 L497.03,404.06 L497.75,403.30 L498.47,402.54 L499.18,402.06 L499.90,402.06 L500.62,402.54 L501.33,403.30 L502.05,404.06 L502.77,404.54 L503.48,404.54 L504.20,404.06 L504.92,403.30 L505.63,402.54 L506.35,402.06 L507.07,402.06 L507.78,402.54 L508.50,403.30 M465.50,408.20 L466.22,408.96 L466.93,409.44 L467.65,409.44 L468.37,408.96 L469.08,408.20 L469.80,407.44 L470.52,406.96 L471.23,406.96 L471.95,407.44 L472.67,408.20 L473.38,408.96 L474.10,409.44 L474.82,409.44 L475.53,408.96 L476.25,408.20 L476.97,407.44 L477.68,406.96 L478.40,406.96 L479.12,407.44 L479.83,408.20 L480.55,408.96 L481.27,409.44 L481.98,409.44 L482.70,408.96 L483.42,408.20 L484.13,407.44 L484.85,406.96 L485.57,406.96 L486.28,407.44 L487.00,408.20 L487.72,408.96 L488.43,409.44 L489.15,409.44 L489.87,408.96 L490.58,408.20 L491.30,407.44 L492.02,406.96 L492.73,406.96 L493.45,407.44 L494.17,408.20 L494.88,408.96 L495.60,409.44 L496.32,409.44 L497.03,408.96 L497.75,408.20 L498.47,407.44 L499.18,406.96 L499.90,406.96 L500.62,407.44 L501.33,408.20 L502.05,408.96 L502.77,409.44 L503.48,409.44 L504.20,408.96 L504.92,408.20 L505.63,407.44 L506.35,406.96 L507.07,406.96 L507.78,407.44 L508.50,408.20" stroke="#4561aa" fill="none" stroke-width="1.15" stroke-linecap="round" stroke-linejoin="round"/>
<circle cx="554.5" cy="371.5" r="3.2" stroke="#e98f4c" fill="none" stroke-width="1.15" stroke-linecap="round" stroke-linejoin="round"/><circle cx="563.9" cy="368.6" r="3.7" stroke="#e98f4c" fill="none" stroke-width="1.15" stroke-linecap="round" stroke-linejoin="round"/><circle cx="573.4" cy="371.5" r="3.2" stroke="#e98f4c" fill="none" stroke-width="1.15" stroke-linecap="round" stroke-linejoin="round"/>
<path d="M557,388.6 L557,382.5 C557,378.5 560,375.6 563.9,375.6 C567.8,375.6 571.2,378.5 571.2,382.5 L571.2,388.6 M547.5,382.3 C548,379 551.5,377.2 555.7,377.2 M572.5,377.2 C576.5,377.2 580,379 580.7,382.3" stroke="#e98f4c" fill="none" stroke-width="1.15" stroke-linecap="round" stroke-linejoin="round"/>
<path d="M552.6,410.1 L553,405 C548,399.5 543.5,394.5 542.6,389.5 L541.8,381.8 C541.5,379.2 545.8,379.2 546,381.8 L547,389.3 C548.5,391.5 551.5,394 553.8,395.6 M549.9,389.6 C549.4,387.6 551.6,386.3 553.2,387.8 L558.4,392.8 C560.6,395.4 561.6,400 561.4,405 L560.8,410.1 M553.8,395.6 C552,394.5 550.2,391.5 549.9,389.6" stroke="#4561aa" fill="none" stroke-width="1.15" stroke-linecap="round" stroke-linejoin="round"/><g transform="translate(1127.8,0) scale(-1,1)"><path d="M552.6,410.1 L553,405 C548,399.5 543.5,394.5 542.6,389.5 L541.8,381.8 C541.5,379.2 545.8,379.2 546,381.8 L547,389.3 C548.5,391.5 551.5,394 553.8,395.6 M549.9,389.6 C549.4,387.6 551.6,386.3 553.2,387.8 L558.4,392.8 C560.6,395.4 561.6,400 561.4,405 L560.8,410.1 M553.8,395.6 C552,394.5 550.2,391.5 549.9,389.6" stroke="#4561aa" fill="none" stroke-width="1.15" stroke-linecap="round" stroke-linejoin="round"/></g>
<path d="M637.1,393.6 L637.1,380.4 C634.5,378.8 633,377 633,374.5 L633,371.5 C633,370.2 634.2,369.6 635.5,369.8 L635.5,367.5 C635.5,365.9 638,365.9 638.2,367.3 C638.5,365.7 641,365.7 641.2,367.1 C641.5,365.6 644,365.6 644.2,367.2 C644.6,365.9 647,366 647.2,367.6 L648.8,368.2 C649.4,368.6 649.4,369.4 649.3,370.5 L649,375 C648.8,376.8 648,377.8 647.5,378.5 L646.9,392.4 M638.2,367.3 L638.2,371.5 M641.2,367.1 L641.2,371.5 M644.2,367.2 L644.2,371.5 M635.5,369.8 L635.5,371.5 C635.5,372.5 636,373.2 637,373.5 L641,374.6 L641.8,377 M633,371.5 L647.2,371.5" stroke="#e98f4c" fill="none" stroke-width="1.15" stroke-linecap="round" stroke-linejoin="round"/>
<path d="M620.3,409.5 L620.3,401.5 C620.3,397.5 624.5,395.2 629.8,395.2 C632.5,395.2 635,396 636.5,397.1 L641.2,386.2 C641.8,384.6 643.3,384.6 643.8,386.2 L648.5,397.1 C650,396 652.5,395.2 655.5,395.2 C661,395.2 665.3,397.5 665.3,401.5 L665.3,409.5 L648.5,409.5 L642.5,392.4 L637.1,409.5 Z" stroke="#4561aa" fill="none" stroke-width="1.15" stroke-linecap="round" stroke-linejoin="round"/>
<circle cx="629.5" cy="387.3" r="4.75" stroke="#4561aa" fill="none" stroke-width="1.15" stroke-linecap="round" stroke-linejoin="round"/><circle cx="655.5" cy="387.3" r="4.75" stroke="#4561aa" fill="none" stroke-width="1.15" stroke-linecap="round" stroke-linejoin="round"/>
<path d="M625,386.2 C626.5,384.8 628,384.6 629.5,385.5 C631,386.4 632.5,386.2 634.2,385.2 M651,386.2 C652.5,384.8 654,384.6 655.5,385.5 C657,386.4 658.5,386.2 660.2,385.2 M624.8,388.5 L623.8,392.4 L635.5,392.4 L634.3,388.5" stroke="#4561aa" fill="none" stroke-width="1.15" stroke-linecap="round" stroke-linejoin="round"/>
<path d="M696.8,379.6 L719.7,365.2 L741.1,379.6" stroke="#e98f4c" fill="none" stroke-width="1.15" stroke-linecap="round" stroke-linejoin="round"/>
<path d="M708.6,410 L708.6,400 C708.6,394 712,391.5 716,390.5 C713.5,389 713.5,385 714.5,382.5 C715.5,379 718,377 719.7,377 C721.5,377 724,379 725,382.5 C726,385 726,389 723.5,390.5 C727.5,391.5 730.8,394 730.8,400 L730.8,410" stroke="#e98f4c" fill="none" stroke-width="1.15" stroke-linecap="round" stroke-linejoin="round"/>
<path d="M697.6,397.5 C697.6,394 700,392 703.5,391 C701.5,389.5 701.5,386.5 702.5,384.5 C703.5,381.5 705,380 706.4,380 C708,380 709.5,381.5 710.5,384.5 C711.5,386.5 711.5,389.5 709.5,391 L712.5,392.5 M741,410 L741,399 C741,394 738,392 735.3,391 C737.3,389.5 737.3,386.5 736.3,384.5 C735.3,381.5 733.8,380 732.3,380 C730.8,380 729.3,381.5 728.3,384.5 C727.3,386.5 727.3,389.5 729.3,391 L726.5,392.5" stroke="#4561aa" fill="none" stroke-width="1.15" stroke-linecap="round" stroke-linejoin="round"/>
<path d="M700.5,399.5 L705,399.5 L703.5,401.5 C707,403 708,407 706.5,409.6 L699,409.6 C697.5,407 698.5,403 702,401.5 Z" stroke="#e98f4c" fill="none" stroke-width="1.15" stroke-linecap="round" stroke-linejoin="round"/>
<circle cx="786.2" cy="381.8" r="12.6" stroke="#4561aa" fill="none" stroke-width="1.15" stroke-linecap="round" stroke-linejoin="round"/><circle cx="801.7" cy="381.8" r="12.6" stroke="#4561aa" fill="none" stroke-width="1.15" stroke-linecap="round" stroke-linejoin="round"/>
<path d="M786.2,394.5 L786.2,410 M778.8,403.6 L792.8,403.6 M810.6,372.9 L818.2,365.3 M812.3,365.2 L818.3,365.2 L818.3,371.2" stroke="#4561aa" fill="none" stroke-width="1.15" stroke-linecap="round" stroke-linejoin="round"/>
<path d="M790.6,380.6 L797.4,380.6 M790.6,383.6 L797.4,383.6" stroke="#e98f4c" fill="none" stroke-width="1.15" stroke-linecap="round" stroke-linejoin="round"/>
<path d="M856.7,396.5 L856.7,409.2 L891.5,409.2 L891.5,377.5 M868.1,385.1 L868.1,409.2 M879.5,385.1 L879.5,409.2" stroke="#4561aa" fill="none" stroke-width="1.15" stroke-linecap="round" stroke-linejoin="round"/>
<path d="M854.2,394 L869.4,379.4 L873.8,383.2 L892.2,367 M886.8,366.3 L893.5,366.3 L893.5,373" stroke="#e98f4c" fill="none" stroke-width="1.15" stroke-linecap="round" stroke-linejoin="round"/>
<text x="409.0" y="425.5" font-size="9.4" fill="#333" font-weight="normal" text-anchor="middle" >Information</text>
<text x="409.0" y="435.0" font-size="9.4" fill="#333" font-weight="normal" text-anchor="middle" >Integrity &amp; Cultural</text>
<text x="409.0" y="444.5" font-size="9.4" fill="#333" font-weight="normal" text-anchor="middle" >Engagement</text>
<rect x="375.0" y="452.6" width="68" height="23" rx="2" fill="url(#pGray)"/>
<rect x="375.0" y="452.6" width="19.7" height="23" rx="1.5" fill="url(#pOr)"/>
<text x="409.0" y="472.6" font-size="24.5" fill="#2f55b0" font-weight="bold" text-anchor="middle" stroke="#2f55b0" stroke-width="0.9">10</text>
<text x="409.0" y="486.7" font-size="9.0" fill="#777" font-weight="normal" text-anchor="middle" >29%</text>
<text x="486.6" y="425.5" font-size="9.4" fill="#333" font-weight="normal" text-anchor="middle" >Environmental</text>
<text x="486.6" y="435.0" font-size="9.4" fill="#333" font-weight="normal" text-anchor="middle" >Resilience</text>
<rect x="452.6" y="452.6" width="68" height="23" rx="2" fill="url(#pGray)"/>
<rect x="452.6" y="452.6" width="15.6" height="23" rx="1.5" fill="url(#pOr)"/>
<text x="486.6" y="472.6" font-size="24.5" fill="#2f55b0" font-weight="bold" text-anchor="middle" stroke="#2f55b0" stroke-width="0.9">8</text>
<text x="486.6" y="486.7" font-size="9.0" fill="#777" font-weight="normal" text-anchor="middle" >23%</text>
<text x="564.2" y="425.5" font-size="9.4" fill="#333" font-weight="normal" text-anchor="middle" >Support to</text>
<text x="564.2" y="435.0" font-size="9.4" fill="#333" font-weight="normal" text-anchor="middle" >Local Actors to</text>
<text x="564.2" y="444.5" font-size="9.4" fill="#333" font-weight="normal" text-anchor="middle" >Provide Services</text>
<rect x="530.2" y="452.6" width="68" height="23" rx="2" fill="url(#pGray)"/>
<rect x="530.2" y="452.6" width="10.2" height="23" rx="1.5" fill="url(#pOr)"/>
<text x="564.2" y="472.6" font-size="24.5" fill="#2f55b0" font-weight="bold" text-anchor="middle" stroke="#2f55b0" stroke-width="0.9">5</text>
<text x="564.2" y="486.7" font-size="9.0" fill="#777" font-weight="normal" text-anchor="middle" >15%</text>
<text x="641.8" y="425.5" font-size="9.4" fill="#333" font-weight="normal" text-anchor="middle" >Youth</text>
<text x="641.8" y="435.0" font-size="9.4" fill="#333" font-weight="normal" text-anchor="middle" >Empowerment</text>
<rect x="607.8" y="452.6" width="68" height="23" rx="2" fill="url(#pGray)"/>
<rect x="607.8" y="452.6" width="8.2" height="23" rx="1.5" fill="url(#pOr)"/>
<text x="641.8" y="472.6" font-size="24.5" fill="#2f55b0" font-weight="bold" text-anchor="middle" stroke="#2f55b0" stroke-width="0.9">4</text>
<text x="641.8" y="486.7" font-size="9.0" fill="#777" font-weight="normal" text-anchor="middle" >12%</text>
<text x="719.4" y="425.5" font-size="9.4" fill="#333" font-weight="normal" text-anchor="middle" >Support to IDPs</text>
<text x="719.4" y="435.0" font-size="9.4" fill="#333" font-weight="normal" text-anchor="middle" >and Vulnerable</text>
<text x="719.4" y="444.5" font-size="9.4" fill="#333" font-weight="normal" text-anchor="middle" >Groups</text>
<rect x="685.4" y="452.6" width="68" height="23" rx="2" fill="url(#pGray)"/>
<rect x="685.4" y="452.6" width="8.2" height="23" rx="1.5" fill="url(#pOr)"/>
<text x="719.4" y="472.6" font-size="24.5" fill="#2f55b0" font-weight="bold" text-anchor="middle" stroke="#2f55b0" stroke-width="0.9">4</text>
<text x="719.4" y="486.7" font-size="9.0" fill="#777" font-weight="normal" text-anchor="middle" >12%</text>
<text x="797.0" y="425.5" font-size="9.4" fill="#333" font-weight="normal" text-anchor="middle" >Gender</text>
<text x="797.0" y="435.0" font-size="9.4" fill="#333" font-weight="normal" text-anchor="middle" >Equality</text>
<rect x="763.0" y="452.6" width="68" height="23" rx="2" fill="url(#pGray)"/>
<rect x="763.0" y="452.6" width="4.1" height="23" rx="1.5" fill="url(#pOr)"/>
<text x="797.0" y="472.6" font-size="24.5" fill="#2f55b0" font-weight="bold" text-anchor="middle" stroke="#2f55b0" stroke-width="0.9">2</text>
<text x="797.0" y="486.7" font-size="9.0" fill="#777" font-weight="normal" text-anchor="middle" >6%</text>
<text x="874.6" y="425.5" font-size="9.4" fill="#333" font-weight="normal" text-anchor="middle" >Economic</text>
<text x="874.6" y="435.0" font-size="9.4" fill="#333" font-weight="normal" text-anchor="middle" >Development</text>
<rect x="840.6" y="452.6" width="68" height="23" rx="2" fill="url(#pGray)"/>
<rect x="840.6" y="452.6" width="2.0" height="23" rx="1.5" fill="url(#pOr)"/>
<text x="874.6" y="472.6" font-size="24.5" fill="#2f55b0" font-weight="bold" text-anchor="middle" stroke="#2f55b0" stroke-width="0.9">1</text>
<text x="874.6" y="486.7" font-size="9.0" fill="#777" font-weight="normal" text-anchor="middle" >3%</text>
<circle cx="408.2" cy="582.2" r="33.0" fill="#e6e6e6" stroke="#dcdcdc" stroke-width="0.6"/>
<path d="M408.20,549.20 A33.0,33.0 0 1 1 379.28,598.10 L390.50,591.93 A20.2,20.2 0 1 0 408.20,562.00 Z" fill="url(#gDon)"/>
<circle cx="408.2" cy="582.2" r="20.2" fill="url(#gGrn)"/>
<text x="408.2" y="591.4" font-size="25.5" fill="#fff" font-weight="bold" text-anchor="middle" stroke="#fff" stroke-width="1.1">23</text>
<text x="408.2" y="630.4" font-size="9.0" fill="#777" font-weight="normal" text-anchor="middle" >67%</text>
<text x="408.2" y="642.2" font-size="9.6" fill="#222" font-weight="normal" text-anchor="middle" >Capacity</text>
<text x="408.2" y="653.4" font-size="9.6" fill="#222" font-weight="normal" text-anchor="middle" >development</text>
<circle cx="525.1" cy="582.2" r="33.0" fill="#e6e6e6" stroke="#dcdcdc" stroke-width="0.6"/>
<path d="M525.10,549.20 A33.0,33.0 0 0 1 547.69,558.14 L538.93,567.47 A20.2,20.2 0 0 0 525.10,562.00 Z" fill="url(#gDon)"/>
<circle cx="525.1" cy="582.2" r="20.2" fill="url(#gGrn)"/>
<text x="525.1" y="591.4" font-size="25.5" fill="#fff" font-weight="bold" text-anchor="middle" stroke="#fff" stroke-width="1.1">4</text>
<text x="525.1" y="630.4" font-size="9.0" fill="#777" font-weight="normal" text-anchor="middle" >12%</text>
<text x="525.1" y="642.2" font-size="9.6" fill="#222" font-weight="normal" text-anchor="middle" >Awareness</text>
<text x="525.1" y="653.4" font-size="9.6" fill="#222" font-weight="normal" text-anchor="middle" >raising</text>
<circle cx="642.0" cy="582.2" r="33.0" fill="#e6e6e6" stroke="#dcdcdc" stroke-width="0.6"/>
<path d="M642.00,549.20 A33.0,33.0 0 0 1 664.59,558.14 L655.83,567.47 A20.2,20.2 0 0 0 642.00,562.00 Z" fill="url(#gDon)"/>
<circle cx="642.0" cy="582.2" r="20.2" fill="url(#gGrn)"/>
<text x="642.0" y="591.4" font-size="25.5" fill="#fff" font-weight="bold" text-anchor="middle" stroke="#fff" stroke-width="1.1">4</text>
<text x="642.0" y="630.4" font-size="9.0" fill="#777" font-weight="normal" text-anchor="middle" >12%</text>
<text x="642.0" y="642.2" font-size="9.6" fill="#222" font-weight="normal" text-anchor="middle" >Service</text>
<text x="642.0" y="653.4" font-size="9.6" fill="#222" font-weight="normal" text-anchor="middle" >Provision</text>
<circle cx="758.9" cy="582.2" r="33.0" fill="#e6e6e6" stroke="#dcdcdc" stroke-width="0.6"/>
<path d="M758.90,549.20 A33.0,33.0 0 0 1 771.05,551.52 L766.34,563.42 A20.2,20.2 0 0 0 758.90,562.00 Z" fill="url(#gDon)"/>
<circle cx="758.9" cy="582.2" r="20.2" fill="url(#gGrn)"/>
<text x="758.9" y="591.4" font-size="25.5" fill="#fff" font-weight="bold" text-anchor="middle" stroke="#fff" stroke-width="1.1">2</text>
<text x="758.9" y="630.4" font-size="9.0" fill="#777" font-weight="normal" text-anchor="middle" >6%</text>
<text x="758.9" y="642.2" font-size="9.6" fill="#222" font-weight="normal" text-anchor="middle" >Community</text>
<text x="758.9" y="653.4" font-size="9.6" fill="#222" font-weight="normal" text-anchor="middle" >mobilization</text>
<circle cx="875.8" cy="582.2" r="33.0" fill="#e6e6e6" stroke="#dcdcdc" stroke-width="0.6"/>
<path d="M875.80,549.20 A33.0,33.0 0 0 1 881.98,549.78 L879.59,562.36 A20.2,20.2 0 0 0 875.80,562.00 Z" fill="url(#gDon)"/>
<circle cx="875.8" cy="582.2" r="20.2" fill="url(#gGrn)"/>
<text x="875.8" y="591.4" font-size="25.5" fill="#fff" font-weight="bold" text-anchor="middle" stroke="#fff" stroke-width="1.1">1</text>
<text x="875.8" y="630.4" font-size="9.0" fill="#777" font-weight="normal" text-anchor="middle" >3%</text>
<text x="875.8" y="642.2" font-size="9.6" fill="#222" font-weight="normal" text-anchor="middle" >Advocacy</text>
<text x="453.6" y="723.0" font-size="12.6" fill="#111" font-weight="bold" text-anchor="middle" >Armenia</text>
<path d="M378.30,809.50 A76.3,76.3 0 0 1 530.90,809.50 L500.40,809.50 A45.8,45.8 0 0 0 408.80,809.50 Z" fill="url(#pGray)" stroke="#e2e2e2" stroke-width="3" stroke-linejoin="round"/>
<path d="M378.30,809.50 A76.3,76.3 0 0 1 383.17,782.69 L411.72,793.41 A45.8,45.8 0 0 0 408.80,809.50 Z" fill="url(#pBlue)" stroke="#365dc0" stroke-width="3" stroke-linejoin="round"/>
<text x="452.6" y="810.0" font-size="40.5" fill="#2f55b0" font-weight="bold" text-anchor="middle" stroke="#2f55b0" stroke-width="1.2">4</text>
<text x="636.3" y="723.0" font-size="12.6" fill="#111" font-weight="bold" text-anchor="middle" >Azerbaijan</text>
<path d="M561.00,809.50 A76.3,76.3 0 0 1 713.60,809.50 L683.10,809.50 A45.8,45.8 0 0 0 591.50,809.50 Z" fill="url(#pGray)" stroke="#e2e2e2" stroke-width="3" stroke-linejoin="round"/>
<path d="M561.00,809.50 A76.3,76.3 0 0 1 565.87,782.69 L594.42,793.41 A45.8,45.8 0 0 0 591.50,809.50 Z" fill="url(#pBlue)" stroke="#365dc0" stroke-width="3" stroke-linejoin="round"/>
<text x="635.3" y="810.0" font-size="40.5" fill="#2f55b0" font-weight="bold" text-anchor="middle" stroke="#2f55b0" stroke-width="1.2">4</text>
<text x="819.0" y="723.0" font-size="12.6" fill="#111" font-weight="bold" text-anchor="middle" >Belarus</text>
<path d="M743.70,809.50 A76.3,76.3 0 0 1 896.30,809.50 L865.80,809.50 A45.8,45.8 0 0 0 774.20,809.50 Z" fill="url(#pGray)" stroke="#e2e2e2" stroke-width="3" stroke-linejoin="round"/>
<path d="M743.70,809.50 A76.3,76.3 0 0 1 751.26,776.39 L778.74,789.63 A45.8,45.8 0 0 0 774.20,809.50 Z" fill="url(#pBlue)" stroke="#365dc0" stroke-width="3" stroke-linejoin="round"/>
<text x="818.0" y="810.0" font-size="40.5" fill="#2f55b0" font-weight="bold" text-anchor="middle" stroke="#2f55b0" stroke-width="1.2">5</text>
<text x="453.6" y="853.0" font-size="12.6" fill="#111" font-weight="bold" text-anchor="middle" >Georgia</text>
<path d="M378.30,939.50 A76.3,76.3 0 0 1 530.90,939.50 L500.40,939.50 A45.8,45.8 0 0 0 408.80,939.50 Z" fill="url(#pGray)" stroke="#e2e2e2" stroke-width="3" stroke-linejoin="round"/>
<path d="M378.30,939.50 A76.3,76.3 0 0 1 389.10,900.37 L415.28,916.01 A45.8,45.8 0 0 0 408.80,939.50 Z" fill="url(#pBlue)" stroke="#365dc0" stroke-width="3" stroke-linejoin="round"/>
<text x="452.6" y="940.0" font-size="40.5" fill="#2f55b0" font-weight="bold" text-anchor="middle" stroke="#2f55b0" stroke-width="1.2">6</text>
<text x="636.3" y="851.5" font-size="12.6" fill="#111" font-weight="bold" text-anchor="middle" >Moldova</text>
<path d="M561.00,939.50 A76.3,76.3 0 0 1 713.60,939.50 L683.10,939.50 A45.8,45.8 0 0 0 591.50,939.50 Z" fill="url(#pGray)" stroke="#e2e2e2" stroke-width="3" stroke-linejoin="round"/>
<path d="M561.00,939.50 A76.3,76.3 0 0 1 568.56,906.39 L596.04,919.63 A45.8,45.8 0 0 0 591.50,939.50 Z" fill="url(#pBlue)" stroke="#365dc0" stroke-width="3" stroke-linejoin="round"/>
<text x="635.3" y="940.0" font-size="40.5" fill="#2f55b0" font-weight="bold" text-anchor="middle" stroke="#2f55b0" stroke-width="1.2">5</text>
<text x="819.0" y="853.0" font-size="12.6" fill="#111" font-weight="bold" text-anchor="middle" >Ukraine</text>
<path d="M743.70,939.50 A76.3,76.3 0 0 1 896.30,939.50 L865.80,939.50 A45.8,45.8 0 0 0 774.20,939.50 Z" fill="url(#pGray)" stroke="#e2e2e2" stroke-width="3" stroke-linejoin="round"/>
<path d="M743.70,939.50 A76.3,76.3 0 0 1 772.43,879.85 L791.44,903.69 A45.8,45.8 0 0 0 774.20,939.50 Z" fill="url(#pBlue)" stroke="#365dc0" stroke-width="3" stroke-linejoin="round"/>
<text x="819.5" y="940.0" font-size="40.5" fill="#2f55b0" font-weight="bold" text-anchor="middle" stroke="#2f55b0" stroke-width="1.2">10</text>
<line x1="39.7" y1="917.2" x2="339.2" y2="917.2" stroke="#e0e0e0" stroke-width="1"/>
<line x1="39.7" y1="975.3" x2="339.2" y2="975.3" stroke="#e0e0e0" stroke-width="1"/>
<rect x="39.2" y="931" width="47.1" height="29.7" fill="#1e419b"/><circle cx="62.75" cy="935.46" r="1.34" fill="#f3e26a"/><circle cx="67.95" cy="936.85" r="1.34" fill="#f3e26a"/><circle cx="71.75" cy="940.65" r="1.34" fill="#f3e26a"/><circle cx="73.14" cy="945.85" r="1.34" fill="#f3e26a"/><circle cx="71.75" cy="951.05" r="1.34" fill="#f3e26a"/><circle cx="67.95" cy="954.85" r="1.34" fill="#f3e26a"/><circle cx="62.75" cy="956.25" r="1.34" fill="#f3e26a"/><circle cx="57.55" cy="954.85" r="1.34" fill="#f3e26a"/><circle cx="53.75" cy="951.05" r="1.34" fill="#f3e26a"/><circle cx="52.36" cy="945.85" r="1.34" fill="#f3e26a"/><circle cx="53.75" cy="940.65" r="1.34" fill="#f3e26a"/><circle cx="57.55" cy="936.85" r="1.34" fill="#f3e26a"/>
<text x="92.8" y="942.3" font-size="10.6" fill="#2b4fa0" font-weight="bold" text-anchor="start" textLength="55" lengthAdjust="spacingAndGlyphs" >Funded by</text>
<text x="92.8" y="955.6" font-size="10.6" fill="#2b4fa0" font-weight="bold" text-anchor="start" textLength="103" lengthAdjust="spacingAndGlyphs" >the European Union</text>
<line x1="203.6" y1="928" x2="203.6" y2="961.7" stroke="#d0d0d0" stroke-width="0.8"/>
<polygon points="233.8,962.2 218.4,948.5 226.8,945.3 231.4,952.1" fill="#f26b3a" stroke="#f26b3a" stroke-width="3" stroke-linejoin="round"/>
<polygon points="218.4,948.5 222.8,932.9 231.9,938.8 226.8,945.3" fill="#35b6cf" stroke="#35b6cf" stroke-width="3" stroke-linejoin="round"/>
<polygon points="222.8,932.9 244.3,932.4 239.6,941.6 231.9,938.8" fill="#8d5bb0" stroke="#8d5bb0" stroke-width="3" stroke-linejoin="round"/>
<polygon points="244.3,932.4 249.2,949.5 239.3,949.8 239.6,941.6" fill="#4570c2" stroke="#4570c2" stroke-width="3" stroke-linejoin="round"/>
<polygon points="249.2,949.5 233.8,962.2 231.4,952.1 239.3,949.8" fill="#27a96a" stroke="#27a96a" stroke-width="3" stroke-linejoin="round"/>
<polygon points="231.4,952.1 226.8,945.3 231.9,938.8 239.6,941.6 239.3,949.8" fill="#fff" stroke="#fff" stroke-width="1.5" stroke-linejoin="round"/>
<polygon points="227.8,958.2 218.4,948.5 219.9,951.5" fill="#f9b233" opacity="0.9"/>
<text x="253.8" y="952.1" font-size="17.6" fill="#161616" font-weight="bold" text-anchor="start" textLength="33" lengthAdjust="spacingAndGlyphs" >EaP</text>
<line x1="289.5" y1="939.8" x2="289.5" y2="952.8" stroke="#222" stroke-width="0.8"/>
<text x="292.2" y="945.5" font-size="7.2" fill="#222" font-weight="normal" text-anchor="start" textLength="29.5" lengthAdjust="spacingAndGlyphs" >Eastern</text>
<text x="292.2" y="952.6" font-size="7.2" fill="#222" font-weight="normal" text-anchor="start" textLength="44.6" lengthAdjust="spacingAndGlyphs" >Partnership</text>
<rect x="324.2" y="935" width="14.7" height="9.6" fill="#1e419b"/><circle cx="331.55" cy="936.44" r="0.43" fill="#f3e26a"/><circle cx="333.23" cy="936.89" r="0.43" fill="#f3e26a"/><circle cx="334.46" cy="938.12" r="0.43" fill="#f3e26a"/><circle cx="334.91" cy="939.80" r="0.43" fill="#f3e26a"/><circle cx="334.46" cy="941.48" r="0.43" fill="#f3e26a"/><circle cx="333.23" cy="942.71" r="0.43" fill="#f3e26a"/><circle cx="331.55" cy="943.16" r="0.43" fill="#f3e26a"/><circle cx="329.87" cy="942.71" r="0.43" fill="#f3e26a"/><circle cx="328.64" cy="941.48" r="0.43" fill="#f3e26a"/><circle cx="328.19" cy="939.80" r="0.43" fill="#f3e26a"/><circle cx="328.64" cy="938.12" r="0.43" fill="#f3e26a"/><circle cx="329.87" cy="936.89" r="0.43" fill="#f3e26a"/>
<line x1="39" y1="975.5" x2="908.5" y2="975.5" stroke="#e6e6e6" stroke-width="1"/>
<rect x="39.4" y="982.3" width="28.1" height="18.4" fill="#1e419b"/><circle cx="53.45" cy="985.06" r="0.83" fill="#f3e26a"/><circle cx="56.67" cy="985.92" r="0.83" fill="#f3e26a"/><circle cx="59.03" cy="988.28" r="0.83" fill="#f3e26a"/><circle cx="59.89" cy="991.50" r="0.83" fill="#f3e26a"/><circle cx="59.03" cy="994.72" r="0.83" fill="#f3e26a"/><circle cx="56.67" cy="997.08" r="0.83" fill="#f3e26a"/><circle cx="53.45" cy="997.94" r="0.83" fill="#f3e26a"/><circle cx="50.23" cy="997.08" r="0.83" fill="#f3e26a"/><circle cx="47.87" cy="994.72" r="0.83" fill="#f3e26a"/><circle cx="47.01" cy="991.50" r="0.83" fill="#f3e26a"/><circle cx="47.87" cy="988.28" r="0.83" fill="#f3e26a"/><circle cx="50.23" cy="985.92" r="0.83" fill="#f3e26a"/>
<text x="77.3" y="988.6" font-size="7.3" fill="#444" font-weight="normal" text-anchor="start" textLength="760" lengthAdjust="spacingAndGlyphs" >The project ‘Eastern Partnership Civil Society Facility – Regional Actions’ is funded by the European Union and implemented by the consortium led by GDSI Limited. This publication was produced with the financial</text>
<text x="77.3" y="998.2" font-size="7.3" fill="#444" font-weight="normal" text-anchor="start" textLength="580" lengthAdjust="spacingAndGlyphs" >support of the European Union. Its contents are the sole responsibility of the GDSI-led Consortium and do not necessarily reflect the views of the European Union.</text>
<polygon points="862.6,985.7 874.4,985.7 862.6,998.3" fill="#8b2332"/><polygon points="874.4,985.7 874.4,998.3 862.6,998.3" fill="none" stroke="#999" stroke-width="0.9"/><rect x="866.5" y="989.5" width="4" height="4" fill="#aaa"/>
<text x="878.4" y="997.6" font-size="16.5" font-style="italic" fill="#8b2332" font-family="Liberation Serif, serif" textLength="30" lengthAdjust="spacingAndGlyphs">GDSI</text>
<line x1="861" y1="1002" x2="909" y2="1002" stroke="#c8c8c8" stroke-width="1.4"/>
</svg>
</body></html>
